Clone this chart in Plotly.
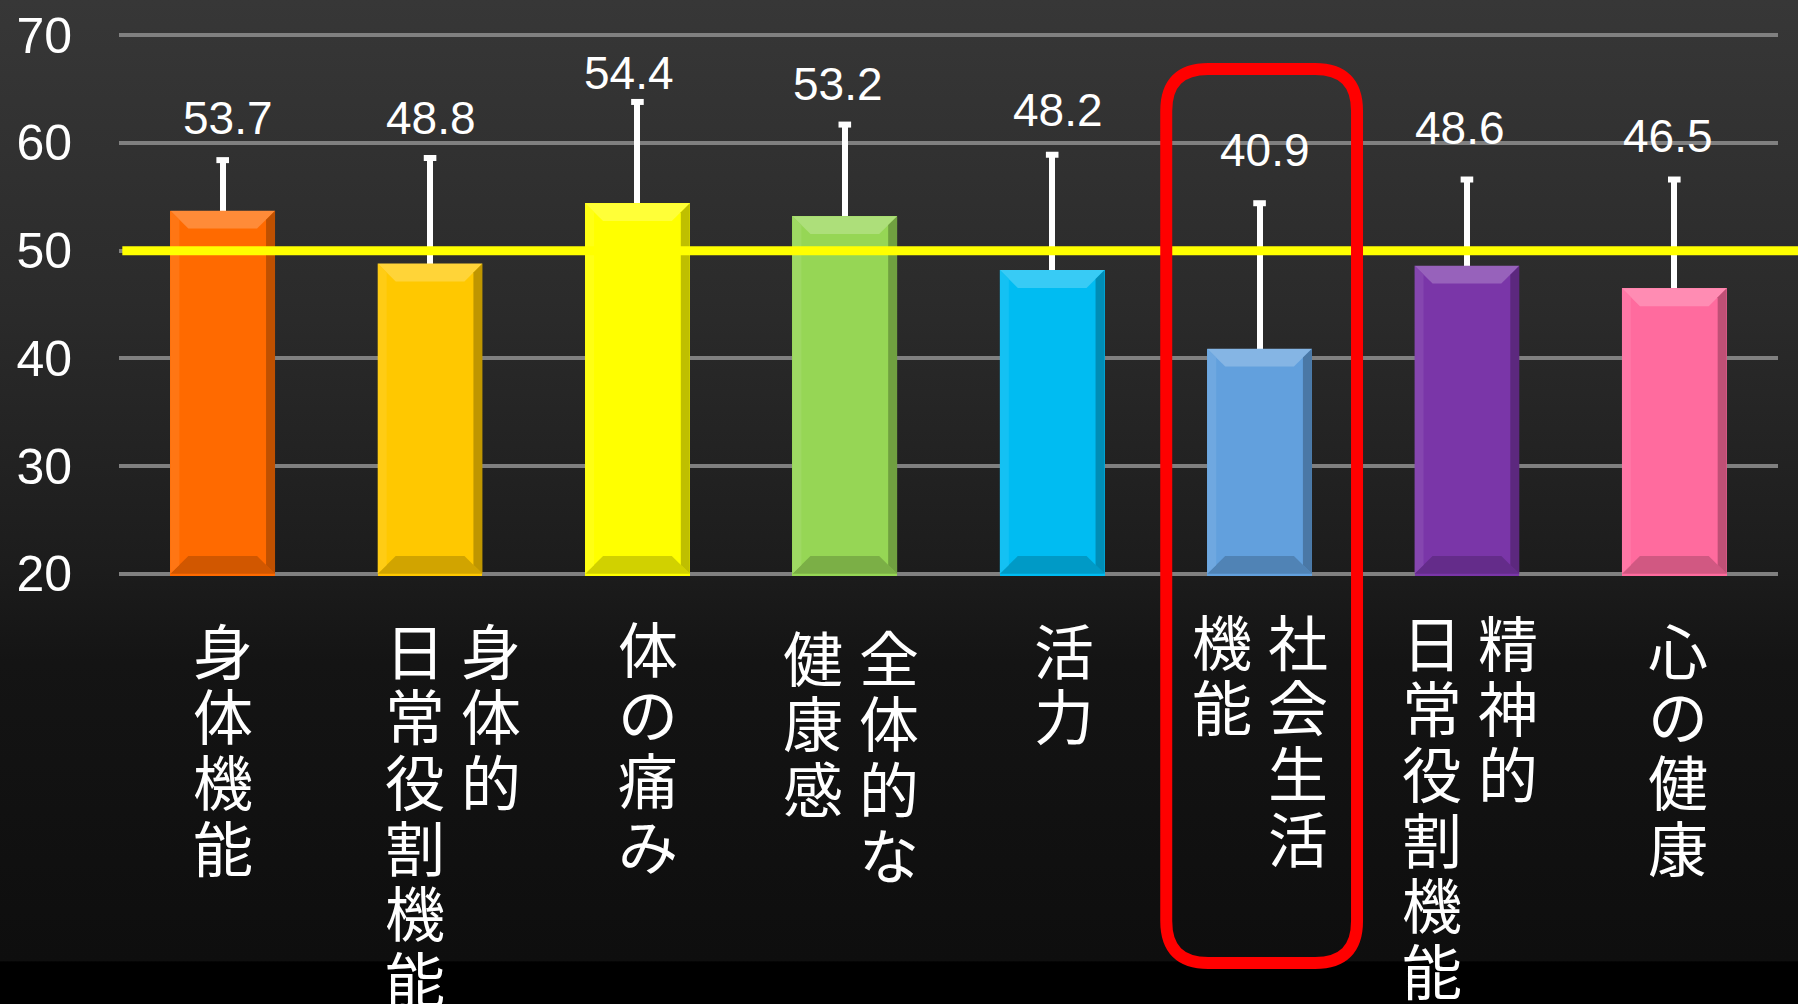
import base64
import plotly.graph_objects as go

# ---------------- data ----------------
categories = ["身体機能", "身体的\n日常役割機能", "体の痛み", "全体的な\n健康感",
              "活力", "社会生活\n機能", "精神的\n日常役割機能", "心の健康"]
means = [53.7, 48.8, 54.4, 53.2, 48.2, 40.9, 48.6, 46.5]
sd_plus = [4.7, 9.8, 9.4, 8.5, 10.7, 13.5, 8.0, 10.1]
y_ticks = [20, 30, 40, 50, 60, 70]
reference_value = 50
highlight_index = 5

# ---------------- styles / layout ----------------
bar_colors = ["#FF6A00", "#FFC800", "#FFFF00", "#96D655",
              "#00BCF2", "#62A0DD", "#7A36A8", "#FF6B9E"]
label_xshift = [0, 23, 11, 6, 12, 0, 3, 4]      # px nudges of the category labels
label_yshift = [0, 0, 2, -7, 0, 9, 8, 0]
value_xshift = [5, 1, -8, -7, 6, 5, -7, -6]     # px nudges of the value labels
value_yshift = [42, 40, 29, 41, 45, 53, 52, 44]

W, H = 1798, 1004
ML, MR, MT, MB = 119, 20, 33, 428
PW, PH = W - ML - MR, H - MT - MB
Y_MIN, Y_MAX = y_ticks[0], y_ticks[-1]
N = len(categories)
BAR_W = 0.505
PX_X = PW / N                 # px per category unit
PX_Y = PH / (Y_MAX - Y_MIN)   # px per value unit


def mix(hexc, target, t):
    h = hexc.lstrip("#")
    c = [int(h[i:i + 2], 16) for i in (0, 2, 4)]
    tg = (255, 255, 255) if target == "w" else (0, 0, 0)
    r = [round(c[k] + (tg[k] - c[k]) * t) for k in range(3)]
    return "#%02X%02X%02X" % tuple(r)


# background gradient as an SVG image
svg = f'''<svg xmlns="http://www.w3.org/2000/svg" width="{W}" height="{H}" viewBox="0 0 {W} {H}" preserveAspectRatio="none">
<defs><linearGradient id="g" x1="0" y1="0" x2="0" y2="1">
<stop offset="0" stop-color="#373737"/>
<stop offset="0.30" stop-color="#2b2b2b"/>
<stop offset="0.57" stop-color="#1c1c1c"/>
<stop offset="0.66" stop-color="#141414"/>
<stop offset="0.957" stop-color="#0e0e0e"/>
<stop offset="0.958" stop-color="#000000"/>
<stop offset="1" stop-color="#000000"/>
</linearGradient></defs>
<rect width="{W}" height="{H}" fill="url(#g)"/></svg>'''
bg_src = "data:image/svg+xml;base64," + base64.b64encode(svg.encode()).decode()

xs = list(range(N))
fig = go.Figure()

fig.add_trace(go.Bar(
    x=xs, y=means, width=BAR_W,
    marker=dict(color=bar_colors, line=dict(width=0)),
    error_y=dict(type="data", array=sd_plus, arrayminus=[0] * N, symmetric=False,
                 color="#FFFFFF", thickness=6, width=0),
    hoverinfo="skip", showlegend=False,
))
# error bar caps
fig.add_trace(go.Scatter(
    x=xs, y=[m + s for m, s in zip(means, sd_plus)], mode="markers",
    marker=dict(symbol="line-ew", size=9, line=dict(width=6, color="#FFFFFF")),
    hoverinfo="skip", showlegend=False,
))

shapes = []
# bevel decoration on each bar
dx = 18 / PX_X
dy = 18 / PX_Y
for i, v in enumerate(means):
    c = bar_colors[i]
    x0, x1, y0, y1 = i - BAR_W / 2, i + BAR_W / 2, Y_MIN, v
    polys = [
        (f"M{x0},{y1} L{x1},{y1} L{x1-dx},{y1-dy} L{x0+dx},{y1-dy} Z", mix(c, "w", 0.22)),
        (f"M{x0},{y0} L{x1},{y0} L{x1-dx},{y0+dy} L{x0+dx},{y0+dy} Z", mix(c, "k", 0.18)),
        (f"M{x0},{y0} L{x0},{y1} L{x0+dx*0.5},{y1-dy*0.5} L{x0+dx*0.5},{y0+dy*0.5} Z", mix(c, "w", 0.08)),
        (f"M{x1},{y0} L{x1},{y1} L{x1-dx*0.5},{y1-dy*0.5} L{x1-dx*0.5},{y0+dy*0.5} Z", mix(c, "k", 0.25)),
    ]
    for p, fc in polys:
        shapes.append(dict(type="path", xref="x", yref="y", path=p,
                           fillcolor=fc, line=dict(width=0), layer="above"))

# yellow reference line (runs to the right edge of the canvas)
shapes.append(dict(type="line", xref="paper", yref="y",
                   x0=0.002, x1=(W - ML) / PW, y0=reference_value, y1=reference_value,
                   line=dict(color="#FFFF00", width=9), layer="above"))

# red rounded highlight box around one category
bx0 = (highlight_index - 0.45 + 0.5) / N
bx1 = (highlight_index + 0.47 + 0.5) / N
by1 = (PH + MT - 69) / PH
by0 = (PH + MT - 963) / PH
rx = 42 / PW
ry = 42 / PH
box = (f"M{bx0+rx},{by1} L{bx1-rx},{by1} Q{bx1},{by1} {bx1},{by1-ry} "
       f"L{bx1},{by0+ry} Q{bx1},{by0} {bx1-rx},{by0} "
       f"L{bx0+rx},{by0} Q{bx0},{by0} {bx0},{by0+ry} "
       f"L{bx0},{by1-ry} Q{bx0},{by1} {bx0+rx},{by1} Z")
shapes.append(dict(type="path", xref="paper", yref="paper", path=box,
                   line=dict(color="#FF0000", width=12), fillcolor="rgba(0,0,0,0)",
                   layer="above"))

annotations = []
# value labels
for i, (m, s) in enumerate(zip(means, sd_plus)):
    annotations.append(dict(x=i, y=m + s, xref="x", yref="y", text=f"{m:.1f}",
                            showarrow=False, yanchor="middle",
                            xshift=value_xshift[i], yshift=value_yshift[i],
                            font=dict(family="Liberation Sans, Arial", size=46, color="#FFFFFF")))

# vertical (tategaki) category labels; columns read right to left
ROW0 = 72
PITCH = 65.7
COL_GAP = 76
for i, cat in enumerate(categories):
    cols = cat.split("\n")
    nc = len(cols)
    for j, col in enumerate(cols):
        xshift = ((nc - 1) / 2 - j) * COL_GAP + label_xshift[i]
        for k, ch in enumerate(col):
            annotations.append(dict(x=i, y=0, xref="x", yref="paper", text=ch,
                                    showarrow=False, xanchor="center", yanchor="middle",
                                    xshift=xshift,
                                    yshift=-(ROW0 + PITCH * k) + label_yshift[i],
                                    font=dict(family="Noto Sans CJK JP", size=60, color="#FFFFFF")))

fig.update_layout(
    width=W, height=H, autosize=False,
    margin=dict(l=ML, r=MR, t=MT, b=MB, pad=0, autoexpand=False),
    paper_bgcolor="#000000", plot_bgcolor="rgba(0,0,0,0)",
    bargap=0,
    shapes=shapes, annotations=annotations,
    images=[dict(source=bg_src, xref="paper", yref="paper",
                 x=-ML / PW, y=1 + MT / PH, sizex=W / PW, sizey=H / PH,
                 xanchor="left", yanchor="top", sizing="stretch", layer="below")],
    xaxis=dict(range=[-0.5, N - 0.5], showticklabels=False, showgrid=False,
               zeroline=False, showline=False, ticks="", fixedrange=True,
               automargin=False),
    yaxis=dict(range=[Y_MIN - 0.2, Y_MAX + 0.2], tickvals=y_ticks, showgrid=True,
               gridcolor="#808080", gridwidth=4, zeroline=False, showline=False,
               ticks="", ticklabelstandoff=46, automargin=False,
               tickfont=dict(family="Liberation Sans, Arial", size=50, color="#FFFFFF")),
    showlegend=False,
)

fig.write_html("out.html")
